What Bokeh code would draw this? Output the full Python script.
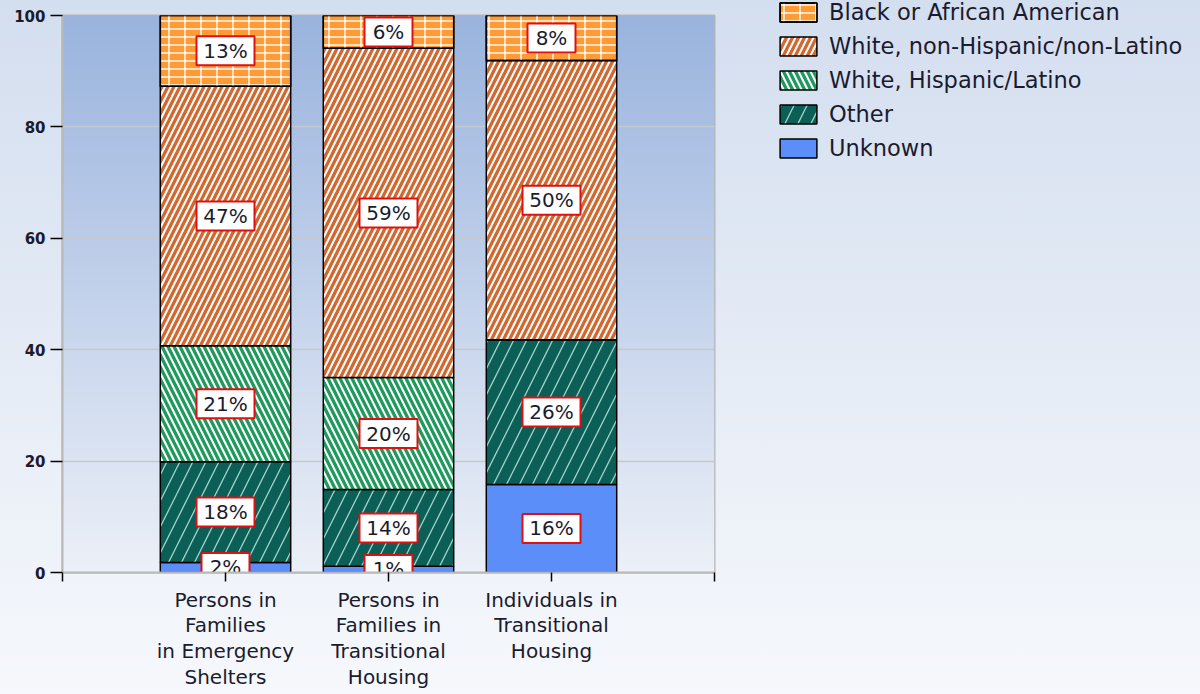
import re
import numpy as np
from bokeh.plotting import figure
from bokeh.models import (ColumnDataSource, Range1d, FixedTicker, Legend, LegendItem)
from bokeh.core.properties import value
from bokeh.embed import file_html
from bokeh.resources import INLINE

# ---------------- data ----------------
categories = [
    "Persons in\nFamilies\nin Emergency\nShelters",
    "Persons in\nFamilies in\nTransitional\nHousing",
    "Individuals in\nTransitional\nHousing",
]
series = [
    "Unknown",
    "Other",
    "White, Hispanic/Latino",
    "White, non-Hispanic/non-Latino",
    "Black or African American",
]
unknown = [1.8, 1.1, 15.8]
other = [18.1, 13.8, 26.0]
hispanic = [20.8, 20.1, 0.0]
white_nh = [46.6, 59.1, 50.1]
black = [12.7, 5.9, 8.1]
y_ticks = [0, 20, 40, 60, 80, 100]

FONT = "DejaVu Sans"
TXT = "#1b1b2e"

xpos = list(range(1, len(categories) + 1))
x_lo, x_hi = 0, len(categories) + 1
y_lo, y_hi = 0, 100

p = figure(frame_width=652, frame_height=557, x_range=Range1d(x_lo, x_hi),
           y_range=Range1d(y_lo, y_hi), output_backend="svg", toolbar_location=None,
           min_border_left=62, min_border_right=480, min_border_top=15, min_border_bottom=116)
p.border_fill_alpha = 0
p.background_fill_alpha = 0

# frame gradient background
n = 256
t = np.linspace(0, 1, n)
c_bot = np.array([236, 240, 248], dtype=float)
c_top = np.array([154, 180, 222], dtype=float)
cols = c_bot[None, :] * (1 - t[:, None]) + c_top[None, :] * t[:, None]
img = np.zeros((n, 2), dtype=np.uint32)
view = img.view(dtype=np.uint8).reshape((n, 2, 4))
for k in range(3):
    view[:, :, k] = cols[:, k][:, None].astype(np.uint8)
view[:, :, 3] = 255
p.image_rgba(image=[img], x=x_lo, y=y_lo, dw=x_hi - x_lo, dh=y_hi - y_lo, level="image")

# each series may be drawn as several stacked layers (first one carries the fill)
styles = [
    [dict(fill_color="#5b8ef9")],
    [dict(fill_color="#0b5f56", hatch_pattern="right_diagonal_line", hatch_color="#a3d3cb",
          hatch_scale=26, hatch_weight=1.3)],
    [dict(fill_color="#1f9a5d", hatch_pattern="left_diagonal_line", hatch_color="white",
          hatch_scale=12, hatch_weight=2.1)],
    [dict(fill_color="#d2672f", hatch_pattern="right_diagonal_line", hatch_color="white",
          hatch_scale=12, hatch_weight=2.1)],
    [dict(fill_color="#ff9a35", hatch_pattern="horizontal_line", hatch_color="white",
          hatch_scale=8, hatch_weight=1.4),
     dict(fill_alpha=0, hatch_pattern="vertical_line", hatch_color="white",
          hatch_scale=16, hatch_weight=1.4)],
]

stack = [unknown, other, hispanic, white_nh, black]
bottoms = np.zeros(len(categories))
renderers = []
lx, ly, ltext, lw = [], [], [], []
for name, vals, layers in zip(series, stack, styles):
    vals = np.array(vals, dtype=float)
    tops = bottoms + vals
    src = ColumnDataSource(dict(x=xpos, bottom=bottoms.copy(), top=tops))
    rs = []
    for st in layers:
        r = p.vbar(x="x", bottom="bottom", top="top", width=0.8, source=src,
                   line_color="black", line_width=1.5, **st)
        rs.append(r)
    renderers.append(rs)
    for i, v in enumerate(vals):
        if v > 0:
            s = f"{round(v)}%"
            lx.append(xpos[i])
            ly.append(bottoms[i] + v / 2)
            ltext.append(s)
            lw.append(10 * len(s) + 28)
    bottoms = tops

lab = ColumnDataSource(dict(x=lx, y=ly, text=ltext, w=lw))
p.rect(x="x", y="y", width="w", height=29, width_units="screen", height_units="screen",
       fill_color="white", line_color="#dd1111", line_width=2, source=lab)
p.text(x="x", y="y", text="text", text_align="center", text_baseline="middle",
       text_font=value(FONT), text_font_size="20px", text_color=TXT, source=lab)

# axes
p.xaxis.ticker = FixedTicker(ticks=list(range(x_lo, x_hi + 1)))
overrides = {x_lo: "", x_hi: ""}
for xp, c in zip(xpos, categories):
    overrides[xp] = c
p.xaxis.major_label_overrides = overrides
p.yaxis.ticker = FixedTicker(ticks=y_ticks)
for ax in (p.xaxis, p.yaxis):
    ax.axis_line_color = "#b8b8b8"
    ax.axis_line_width = 2
    ax.major_tick_line_color = "black"
    ax.major_tick_line_width = 1.5
    ax.minor_tick_line_color = None
    ax.major_tick_in = 0
    ax.major_label_text_font = FONT
    ax.major_label_text_color = TXT
p.yaxis.major_tick_out = 12
p.xaxis.major_tick_out = 9
p.yaxis.major_label_text_font_style = "bold"
p.yaxis.major_label_text_font_size = "15px"
p.xaxis.major_label_text_font_size = "20px"
p.xaxis.major_label_text_line_height = 1.07
p.xaxis.major_label_standoff = 6
p.xgrid.visible = False
p.ygrid.grid_line_color = "#c4c8cf"
p.ygrid.grid_line_width = 1.5
p.outline_line_color = "#b5b5b5"
p.outline_line_width = 2

items = [LegendItem(label=nm, renderers=rs) for nm, rs in reversed(list(zip(series, renderers)))]
legend = Legend(items=items, location=(61, 411), glyph_width=46, glyph_height=24,
                label_height=24, spacing=8, padding=0, margin=0, label_standoff=8,
                label_text_font=FONT, label_text_font_size="22.5px", label_text_color=TXT,
                background_fill_alpha=0, border_line_color=None)
p.add_layout(legend, "right")

html = file_html(p, INLINE)
style = ("<style>html, body { background: linear-gradient(to bottom, #d3deef, #f6f8fc) fixed "
         "!important; overflow: hidden; }</style>")
html = re.sub(r"</head>", style + "\n</head>", html, count=1)
open("out.html", "w").write(html)
